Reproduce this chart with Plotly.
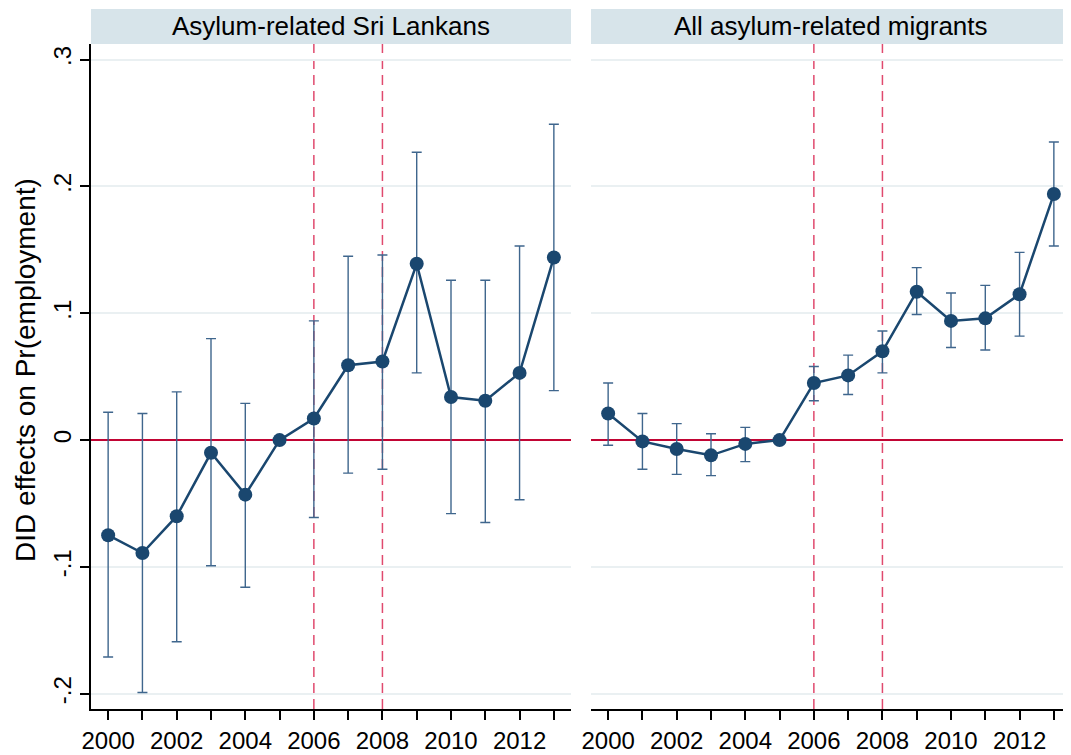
import plotly.graph_objects as go

years = list(range(2000, 2014))

sri_est = [-0.075, -0.089, -0.060, -0.010, -0.043, 0.000, 0.017, 0.059, 0.062, 0.139, 0.034, 0.031, 0.053, 0.144]
sri_hi = [0.022, 0.021, 0.038, 0.080, 0.029, None, 0.094, 0.145, 0.146, 0.227, 0.126, 0.126, 0.153, 0.249]
sri_lo = [-0.171, -0.199, -0.159, -0.099, -0.116, None, -0.061, -0.026, -0.023, 0.053, -0.058, -0.065, -0.047, 0.039]

all_est = [0.021, -0.001, -0.007, -0.012, -0.003, 0.000, 0.045, 0.051, 0.070, 0.117, 0.094, 0.096, 0.115, 0.194]
all_hi = [0.045, 0.021, 0.013, 0.005, 0.010, None, 0.058, 0.067, 0.086, 0.136, 0.116, 0.122, 0.148, 0.235]
all_lo = [-0.004, -0.023, -0.027, -0.028, -0.017, None, 0.031, 0.036, 0.053, 0.099, 0.073, 0.071, 0.082, 0.153]

panel_titles = ["Asylum-related Sri Lankans", "All asylum-related migrants"]
event_years = [2006, 2008]
ytick_vals = [-0.2, -0.1, 0, 0.1, 0.2, 0.3]
ytick_text = ["-.2", "-.1", "0", ".1", ".2", ".3"]
xtick_text = [str(y) if y % 2 == 0 else "" for y in years]
y_title = "DID effects on Pr(employment)"

NAVY = "#1a476f"
BAR = "#3f668d"
RED = "#c10534"
DASH = "#e04a6e"
GRID = "#eaf0f2"
STRIP = "#d7e4ea"
FONT = "Liberation Sans, Arial, sans-serif"

# the page body adds an 8px offset, so the figure is 8px smaller each way
OFF = 8
W, H = 1071 - OFF, 755 - OFF
ML, MR, MT, MB = 91 - OFF, 0, 44 - OFF, 46
PW = W - ML - MR
PH = H - MT - MB

fig = go.Figure()

def add_panel(est, hi, lo, xa, ya):
    up = [None if h is None else h - e for h, e in zip(hi, est)]
    dn = [None if l is None else e - l for l, e in zip(lo, est)]
    fig.add_trace(go.Scatter(
        x=years, y=est, xaxis=xa, yaxis=ya, mode="lines+markers",
        line=dict(color=NAVY, width=2.5),
        marker=dict(color=NAVY, size=14),
        error_y=dict(type="data", symmetric=False, array=up, arrayminus=dn,
                     color=BAR, thickness=1.4, width=5),
        showlegend=False, hoverinfo="x+y", cliponaxis=False))

add_panel(sri_est, sri_hi, sri_lo, "x", "y")
add_panel(all_est, all_hi, all_lo, "x2", "y2")

dom1 = [0, 480 / PW]
dom2 = [500 / PW, 1]

xcommon = dict(range=[1999.5, 2013.5], tickvals=years, ticktext=xtick_text,
               ticks="outside", ticklen=9, tickwidth=1.5, tickcolor="black",
               showline=True, linecolor="black", linewidth=1.5,
               showgrid=False, zeroline=False,
               tickfont=dict(family=FONT, size=24, color="black"))
ycommon = dict(range=[-0.212, 0.3123], tickvals=ytick_vals, ticktext=ytick_text,
               showgrid=True, gridcolor=GRID, gridwidth=1.5,
               zeroline=True, zerolinecolor=RED, zerolinewidth=2)

fig.update_layout(
    xaxis=dict(domain=dom1, anchor="y", **xcommon),
    xaxis2=dict(domain=dom2, anchor="y2", **xcommon),
    yaxis=dict(anchor="x", ticks="outside", ticklen=9, tickwidth=1.5, tickcolor="black",
               showline=True, linecolor="black", linewidth=1.5, tickangle=-90,
               tickfont=dict(family=FONT, size=24, color="black"), **ycommon),
    yaxis2=dict(anchor="x2", matches="y", showticklabels=False, ticks="",
                showline=False, **ycommon),
    width=W, height=H, autosize=False,
    margin=dict(l=ML, r=MR, t=MT, b=MB, pad=0),
    paper_bgcolor="white", plot_bgcolor="white",
    font=dict(family=FONT, color="black"),
)

shapes = []
annotations = []
for i, (xa, ya) in enumerate([("x", "y"), ("x2", "y2")]):
    for ev in event_years:
        shapes.append(dict(type="line", xref=xa, yref="paper", x0=ev, x1=ev, y0=0, y1=1,
                           line=dict(color=DASH, width=1.5, dash="10px,6px"), layer="below"))
    shapes.append(dict(type="rect", xref=f"{xa} domain", yref="paper", x0=0, x1=1,
                       y0=1, y1=1 + 35 / PH, fillcolor=STRIP, line=dict(width=0)))
    annotations.append(dict(text=panel_titles[i], xref=f"{xa} domain", yref="paper",
                            x=0.5, y=1 + 17.5 / PH, xanchor="center", yanchor="middle",
                            showarrow=False, font=dict(family=FONT, size=26, color="black")))

annotations.append(dict(text=y_title, xref="paper", yref="paper", x=(25 - 91) / PW,
                        y=(709 - 370) / PH, xanchor="center", yanchor="middle",
                        textangle=-90, showarrow=False, borderpad=0,
                        font=dict(family=FONT, size=28, color="black")))

fig.update_layout(shapes=shapes, annotations=annotations)

fig.write_html("out.html")
